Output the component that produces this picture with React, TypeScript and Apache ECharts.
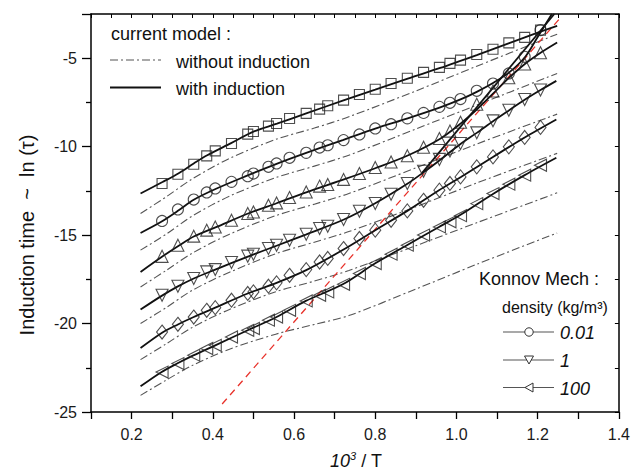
import React, { useEffect, useRef } from "react";
import * as echarts from "echarts";

// shared x positions of the mechanism data points (10^3 / T)
const xMarks = [0.275, 0.314, 0.353, 0.385, 0.406, 0.446, 0.486, 0.5, 0.537, 0.557, 0.589, 0.63, 0.663, 0.683, 0.722, 0.761, 0.8, 0.839, 0.879, 0.919, 0.958, 0.984, 1.01, 1.05, 1.09, 1.129, 1.168, 1.207];

// Konnov mechanism points, ln(tau)
const sqY = [-12.08, -11.56, -10.99, -10.52, -10.24, -9.82, -9.29, -9.14, -8.84, -8.69, -8.41, -8.12, -7.88, -7.69, -7.37, -7.05, -6.75, -6.43, -6.13, -5.8, -5.52, -5.29, -5.11, -4.79, -4.49, -4.13, -3.82, -3.41];
const circY = [-14.2, -13.55, -12.99, -12.59, -12.36, -11.99, -11.67, -11.52, -11.14, -10.95, -10.63, -10.35, -10.05, -9.92, -9.63, -9.31, -8.97, -8.73, -8.4, -8.09, -7.75, -7.52, -7.31, -6.84, -6.43, -5.86, -4.92, -3.41];
const upY = [-16.2, -15.57, -15.06, -14.72, -14.54, -14.16, -13.78, -13.69, -13.31, -13.18, -12.87, -12.56, -12.23, -12.14, -11.85, -11.52, -11.18, -10.87, -10.51, -10.03, -9.54, -9.12, -8.62, -7.6, -6.85, -6.1, -5.33, -4.69];
const downY = [-18.4, -17.89, -17.45, -17.08, -16.95, -16.55, -16.19, -16.08, -15.76, -15.57, -15.29, -14.95, -14.63, -14.5, -14.12, -13.65, -13.21, -12.69, -12.08, -11.39, -10.72, -10.25, -9.82, -9.22, -8.54, -7.94, -7.33, -6.8];
const diaY = [-20.48, -20.04, -19.63, -19.25, -19.1, -18.68, -18.3, -18.21, -17.89, -17.7, -17.27, -16.95, -16.52, -16.32, -15.76, -15.19, -14.72, -14.16, -13.63, -13.03, -12.46, -12.08, -11.71, -11.14, -10.58, -10.01, -9.48, -8.91];
const leftY = [-22.74, -22.26, -21.79, -21.41, -21.23, -20.76, -20.38, -20.28, -19.81, -19.63, -19.25, -18.72, -18.4, -18.21, -17.78, -17.17, -16.61, -16.08, -15.57, -15.0, -14.54, -14.25, -13.9, -13.22, -12.65, -12.12, -11.61, -11.05];

// current model, with induction (solid)
const wiSq = [[0.222, -12.65], [0.276, -12.0], [0.316, -11.5], [0.353, -10.95], [0.385, -10.5], [0.445, -9.8], [0.5, -9.15], [0.558, -8.7], [0.63, -8.12], [0.72, -7.4], [0.8, -6.78], [0.88, -6.15], [0.96, -5.55], [1.05, -4.82], [1.13, -4.15], [1.207, -3.5], [1.248, -3.17]];
const wiCirc = [[0.222, -14.88], [0.273, -14.25], [0.316, -13.6], [0.353, -13.0], [0.408, -12.38], [0.48, -11.68], [0.557, -10.97], [0.63, -10.35], [0.72, -9.63], [0.8, -8.98], [0.88, -8.4], [0.96, -7.78], [1.01, -7.33], [1.05, -6.9], [1.09, -6.4], [1.13, -5.8], [1.17, -4.9], [1.2, -3.8], [1.235, -2.5]];
const wiUp = [[0.222, -17.08], [0.273, -16.25], [0.316, -15.6], [0.353, -15.08], [0.408, -14.55], [0.49, -13.75], [0.557, -13.2], [0.63, -12.58], [0.723, -11.85], [0.8, -11.22], [0.88, -10.5], [0.96, -9.55], [1.01, -8.7], [1.05, -7.9], [1.09, -7.0], [1.13, -6.1], [1.17, -5.3], [1.21, -4.65], [1.248, -4.11]];
const wiSteep = [[0.915, -11.5], [1.241, -2.5]];
const wiDown = [[0.222, -19.21], [0.273, -18.45], [0.314, -17.9], [0.353, -17.45], [0.406, -16.95], [0.488, -16.2], [0.557, -15.6], [0.629, -14.97], [0.723, -14.12], [0.8, -13.2], [0.879, -12.1], [0.919, -11.45], [0.958, -10.78], [1.01, -9.85], [1.05, -9.22], [1.09, -8.56], [1.129, -7.95], [1.168, -7.35], [1.207, -6.8], [1.246, -6.28]];
const wiDia = [[0.222, -21.38], [0.276, -20.5], [0.314, -20.05], [0.353, -19.63], [0.406, -19.1], [0.486, -18.3], [0.557, -17.7], [0.63, -16.98], [0.723, -15.8], [0.8, -14.72], [0.879, -13.63], [0.957, -12.46], [1.011, -11.71], [1.09, -10.58], [1.168, -9.48], [1.246, -8.46]];
const wiLeft = [[0.222, -23.55], [0.273, -22.75], [0.312, -22.26], [0.352, -21.8], [0.406, -21.23], [0.486, -20.38], [0.557, -19.63], [0.629, -18.72], [0.72, -17.78], [0.799, -16.61], [0.878, -15.57], [0.957, -14.54], [1.008, -13.88], [1.088, -12.7], [1.168, -11.61], [1.246, -10.63]];

// current model, without induction (dash-dot)
const woA = [[0.222, -13.78], [0.285, -12.84], [0.351, -11.8], [0.441, -10.67], [0.555, -9.59], [0.65, -8.95], [0.735, -8.31], [0.9, -6.85], [1.05, -5.45], [1.248, -3.64]];
const woB = [[0.222, -15.85], [0.285, -14.95], [0.351, -13.9], [0.441, -12.8], [0.555, -11.75], [0.65, -11.1], [0.735, -10.48], [0.9, -9.0], [1.05, -7.65], [1.248, -5.86]];
const woC = [[0.222, -17.93], [0.285, -17.0], [0.351, -16.0], [0.441, -14.95], [0.555, -13.9], [0.65, -13.25], [0.735, -12.65], [0.9, -11.2], [1.05, -9.85], [1.248, -8.16]];
const woD = [[0.222, -20.0], [0.285, -19.1], [0.351, -18.1], [0.441, -17.1], [0.555, -16.05], [0.65, -15.4], [0.735, -14.8], [0.9, -13.4], [1.05, -12.05], [1.248, -10.38]];
const woE = [[0.222, -22.04], [0.285, -21.15], [0.351, -20.2], [0.441, -19.2], [0.555, -18.2], [0.65, -17.6], [0.735, -17.0], [0.9, -15.6], [1.05, -14.3], [1.248, -12.61]];
const woF = [[0.222, -24.06], [0.285, -23.2], [0.351, -22.35], [0.441, -21.45], [0.555, -20.6], [0.65, -20.05], [0.735, -19.55], [0.9, -18.05], [1.05, -16.65], [1.248, -14.88]];

// red dashed reference line
const redLine = [[0.423, -24.55], [1.258, -2.66]];

const FONT = "'Liberation Sans', Arial, Helvetica, sans-serif";

export default function App() {
  const ref = useRef<HTMLDivElement>(null);
  useEffect(() => {
    document.body.style.margin = "0";
    if (!ref.current) return;
    const chart = echarts.init(ref.current, null, { renderer: "svg" });

    const pts = (ys: number[]) => ys.map((y, i) => [xMarks[i], y]);
    const solid = (data: number[][]) => ({
      type: "line", data, showSymbol: false, symbol: "none", smooth: 0.3,
      lineStyle: { color: "#111", width: 1.8 }, z: 3, silent: true,
    });
    const dashdot = (data: number[][]) => ({
      type: "line", data, showSymbol: false, symbol: "none", smooth: 0.3,
      lineStyle: { color: "#555", width: 1.1, type: [8, 3, 2, 3] }, z: 2, silent: true,
    });
    const marks = (ys: number[], symbol: string, rotate: number, size: any) => ({
      type: "scatter", data: pts(ys), symbol, symbolRotate: rotate, symbolSize: size,
      itemStyle: { color: "rgba(0,0,0,0)", borderColor: "#222", borderWidth: 1.1 }, z: 4, silent: true,
    });

    const legendLine = (x1: number, x2: number, y: number, style: any) => ({
      type: "line", shape: { x1, y1: y, x2, y2: y }, style,
    });

    chart.setOption({
      animation: false,
      grid: { left: 91, right: 12, top: 14, bottom: 59 },
      xAxis: [
        {
          type: "value", min: 0.1, max: 1.4, interval: 0.1,
          axisLine: { lineStyle: { color: "#000", width: 1.5 } },
          axisTick: { show: true, inside: false, length: 7, lineStyle: { color: "#000", width: 1.3 } },
          axisLabel: {
            margin: 14, color: "#1a1a1a", fontSize: 16, fontFamily: FONT,
            formatter: (v: number) => { const k = Math.round(v * 10); return k % 2 === 0 ? (k / 10).toFixed(1) : ""; },
          },
          splitLine: { show: false },
        },
        {
          type: "value", position: "top", min: 0.1, max: 1.4, interval: 0.05,
          axisLine: { show: true, lineStyle: { color: "#000", width: 1.5 } },
          axisTick: { show: true, inside: true, length: 4, lineStyle: { color: "#000" } },
          axisLabel: { show: false }, splitLine: { show: false },
        },
      ],
      yAxis: [
        {
          type: "value", min: -25, max: -2.5, interval: 5,
          axisLine: { show: true, lineStyle: { color: "#000", width: 1.5 } },
          axisTick: { show: true, inside: false, length: 9, lineStyle: { color: "#000", width: 1.3 } },
          minorTick: { show: true, splitNumber: 2, length: 5, lineStyle: { color: "#000", width: 1.3 } },
          axisLabel: {
            margin: 14, color: "#1a1a1a", fontSize: 16, fontFamily: FONT,
            formatter: (v: number) => (Math.abs(v % 5) < 1e-6 ? String(v) : ""),
          },
          splitLine: { show: false },
        },
        {
          type: "value", position: "right", min: -25, max: -2.5, interval: 2.5,
          axisLine: { show: true, lineStyle: { color: "#000", width: 1.5 } },
          axisTick: { show: true, inside: true, length: 4, lineStyle: { color: "#000" } },
          axisLabel: { show: false }, splitLine: { show: false },
        },
      ],
      series: [
        dashdot(woA), dashdot(woB), dashdot(woC), dashdot(woD), dashdot(woE), dashdot(woF),
        {
          type: "line", data: redLine, showSymbol: false, symbol: "none",
          lineStyle: { color: "#e8322b", width: 1.3, type: [7, 5] }, z: 3, silent: true,
        },
        solid(wiSq), solid(wiCirc), solid(wiUp), solid(wiSteep), solid(wiDown), solid(wiDia), solid(wiLeft),
        marks(sqY, "rect", 0, 10),
        marks(circY, "circle", 0, 11),
        marks(upY, "triangle", 0, 12),
        marks(downY, "triangle", 180, 12),
        marks(diaY, "diamond", 0, [11, 14]),
        marks(leftY, "triangle", 90, 12),
      ],
      graphic: [
        { type: "text", x: 111, y: 34, style: { text: "current model :", font: `18px ${FONT}`, fill: "#111", verticalAlign: "middle" } },
        legendLine(110, 161, 60, { stroke: "#555", lineWidth: 1.1, lineDash: [8, 3, 2, 3] }),
        { type: "text", x: 176, y: 61.5, style: { text: "without induction", font: `18px ${FONT}`, fill: "#111", verticalAlign: "middle" } },
        legendLine(110, 161, 87.5, { stroke: "#111", lineWidth: 1.8 }),
        { type: "text", x: 176, y: 89, style: { text: "with induction", font: `18px ${FONT}`, fill: "#111", verticalAlign: "middle" } },

        { type: "text", x: 479, y: 279, style: { text: "Konnov Mech :", font: `18px ${FONT}`, fill: "#111", verticalAlign: "middle" } },
        { type: "text", x: 502, y: 307, style: { text: "density (kg/m³)", font: `16px ${FONT}`, fill: "#111", verticalAlign: "middle" } },
        legendLine(503, 554, 332, { stroke: "#555", lineWidth: 1.1 }),
        { type: "circle", shape: { cx: 529, cy: 332, r: 4.2 }, style: { fill: "#fff", stroke: "#333", lineWidth: 1 } },
        { type: "text", x: 560, y: 333, style: { text: "0.01", font: `italic 18px ${FONT}`, fill: "#111", verticalAlign: "middle" } },
        legendLine(503, 554, 360, { stroke: "#555", lineWidth: 1.1 }),
        { type: "polygon", shape: { points: [[524.5, 356], [533.5, 356], [529, 364]] }, style: { fill: "#fff", stroke: "#333", lineWidth: 1 } },
        { type: "text", x: 560, y: 361, style: { text: "1", font: `italic 18px ${FONT}`, fill: "#111", verticalAlign: "middle" } },
        legendLine(503, 554, 387.5, { stroke: "#555", lineWidth: 1.1 }),
        { type: "polygon", shape: { points: [[525, 387.5], [533, 383], [533, 392]] }, style: { fill: "#fff", stroke: "#333", lineWidth: 1 } },
        { type: "text", x: 560, y: 388.5, style: { text: "100", font: `italic 18px ${FONT}`, fill: "#111", verticalAlign: "middle" } },

        {
          type: "text", x: 356, y: 461,
          style: {
            text: "{i|10}{s|3}{n| / T}", align: "center", verticalAlign: "middle",
            rich: {
              i: { font: `italic 18px ${FONT}`, fill: "#111" },
              s: { font: `italic 11px ${FONT}`, fill: "#111", verticalAlign: "top", padding: [0, 0, 10, 0] },
              n: { font: `18px ${FONT}`, fill: "#111" },
            },
          },
        },
        {
          type: "text", x: 27, y: 235, rotation: Math.PI / 2,
          style: { text: "Induction time  ~  ln (τ)", font: `20px ${FONT}`, fill: "#111", align: "center", verticalAlign: "middle" },
        },
      ],
    });
    return () => chart.dispose();
  }, []);
  return <div ref={ref} style={{ width: 633, height: 471 }} />;
}
